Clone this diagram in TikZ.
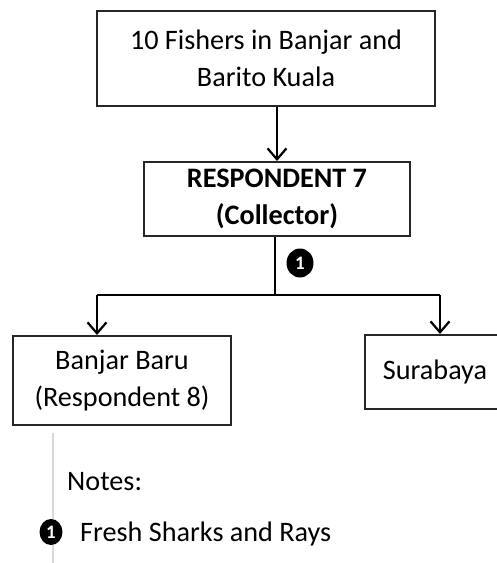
\documentclass[tikz,border=0pt]{standalone}
\usepackage{fontspec}
\setmainfont{Carlito}
\usetikzlibrary{arrows.meta,shapes.geometric}
\tikzset{
  box/.style={draw=black!85, line width=2pt, rectangle, align=center, inner sep=0pt,
    font=\fontsize{28.2}{37.5}\selectfont},
  flow/.style={line width=2.2pt, draw=black},
  flowarrow/.style={flow, -{Straight Barb[length=11pt,width=19pt,line width=2.2pt]}},
  badge/.style={ellipse, fill=black, text=white, inner sep=0pt,
    font=\fontsize{19}{19}\selectfont\bfseries},
  notetext/.style={anchor=base west, inner sep=0pt, font=\fontsize{28.2}{33}\selectfont},
}
\begin{document}
\begin{tikzpicture}[x=1pt,y=-1pt]
\useasboundingbox (0,0) rectangle (496,563);

% boxes of the chain
\node[box, minimum width=338pt, minimum height=95pt] (fishers) at (266,58.5)
  {10 Fishers in Banjar and\\Barito Kuala};
\node[box, minimum width=266pt, minimum height=74pt] (collector) at (277,199)
  {\textbf{RESPONDENT 7}\\\textbf{(Collector)}};
\node[box, minimum width=218pt, minimum height=89pt] (banjarbaru) at (122,380.5)
  {Banjar Baru\\(Respondent 8)};
\node[box, minimum width=140pt, minimum height=74pt] (surabaya) at (435,372)
  {Surabaya};

% connectors
\draw[flowarrow] (fishers.south -| collector.north) -- (collector.north);
\coordinate (split) at (275,295);
\coordinate (lefttop) at (97,295);
\coordinate (righttop) at (440,295);
\draw[flow] (collector.south -| split) -- (split);
\draw[flow] (lefttop) -- (righttop);
\draw[flowarrow] (lefttop) -- (lefttop |- banjarbaru.north);
\draw[flowarrow] (righttop) -- (righttop |- surabaya.north);

% flow marker
\node[badge, minimum width=27pt, minimum height=29pt] (mark) at (300,263) {1};

% notes
\coordinate (ruletop) at (53,433);
\coordinate (rulebot) at (53,563);
\draw[line width=1.5pt, draw=black!15] (ruletop) -- (rulebot);
\node[notetext] (notes) at (67,490) {Notes:};
\node[badge, minimum width=23pt, minimum height=26pt] (notemark) at (51,532) {1};
\node[notetext] (notefresh) at (80,541) {Fresh Sharks and Rays};
\end{tikzpicture}
\end{document}
